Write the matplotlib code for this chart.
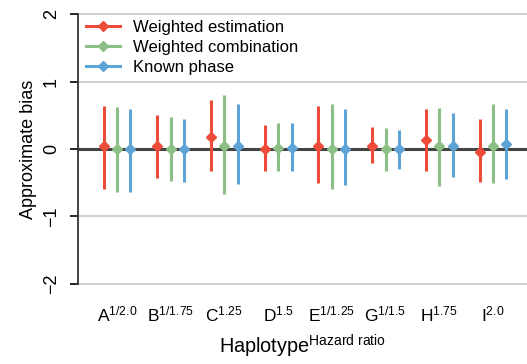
import numpy as np
import matplotlib
matplotlib.use("Agg")
import matplotlib.pyplot as plt

plt.rcParams['font.family'] = ['Liberation Sans', 'DejaVu Sans']
plt.rcParams['mathtext.fontset'] = 'custom'
plt.rcParams['mathtext.rm'] = 'Liberation Sans'
plt.rcParams['mathtext.it'] = 'Liberation Sans:italic'
plt.rcParams['mathtext.bf'] = 'Liberation Sans:bold'

# datos
haplotipos = ['A', 'B', 'C', 'D', 'E', 'G', 'H', 'I']
hazard = ['1/2.0', '1/1.75', '1.25', '1.5', '1/1.25', '1/1.5', '1.75', '2.0']
series = ['Weighted estimation', 'Weighted combination', 'Known phase']

est_pt = [0.04, 0.04, 0.18, 0.00, 0.04, 0.05, 0.13, -0.04]
est_lo = [-0.60, -0.43, -0.32, -0.33, -0.51, -0.21, -0.32, -0.49]
est_hi = [0.63, 0.50, 0.72, 0.35, 0.63, 0.32, 0.59, 0.44]

comb_pt = [0.00, 0.00, 0.05, 0.02, 0.00, 0.00, 0.04, 0.05]
comb_lo = [-0.64, -0.47, -0.66, -0.33, -0.60, -0.32, -0.55, -0.51]
comb_hi = [0.62, 0.47, 0.80, 0.38, 0.66, 0.31, 0.61, 0.67]

known_pt = [0.00, 0.00, 0.05, 0.02, 0.00, 0.00, 0.04, 0.07]
known_lo = [-0.64, -0.49, -0.52, -0.33, -0.54, -0.29, -0.41, -0.45]
known_hi = [0.59, 0.45, 0.66, 0.38, 0.59, 0.28, 0.53, 0.59]

colores = ['#EE4C3A', '#8CBF85', '#5DA3D5']

fig = plt.figure(figsize=(5.27, 3.64), dpi=100)
ax = fig.add_axes([78/527, 1 - 288/364, 1 - 78/527, (288 - 10)/364])

x = np.arange(len(haplotipos))
offsets = [-0.25, 0.0, 0.25]
datos = [(est_pt, est_lo, est_hi), (comb_pt, comb_lo, comb_hi), (known_pt, known_lo, known_hi)]

# lineas de referencia
for yv in [2, 1, -1, -2]:
    ax.axhline(yv, color='#CCCCCC', lw=1.3, zorder=0)
ax.axhline(0, color='#444444', lw=2.2, zorder=1)

for (pt, lo, hi), off, col, nom in zip(datos, offsets, colores, series):
    pt = np.array(pt)
    yerr = [pt - np.array(lo), np.array(hi) - pt]
    ax.errorbar(x + off, pt, yerr=yerr, fmt='D', color=col, ms=5.5,
                elinewidth=2.2, capsize=0, zorder=3)
    ax.plot([], [], color=col, lw=2.2, marker='D', ms=5.5, label=nom)

ax.set_xlim(-0.726, 7.633)
ax.set_ylim(-2.06, 2.06)
ax.set_yticks([-2, -1, 0, 1, 2])
ax.set_yticklabels(['\u22122', '\u22121', '0', '1', '2'], rotation=90, va='center', fontsize=13)
ax.tick_params(axis='y', length=6, width=1.2, pad=7)
ax.set_xticks(x)
ax.set_xticklabels([h + r'$^{\mathrm{' + z + '}}$' for h, z in zip(haplotipos, hazard)], fontsize=12.5)
ax.tick_params(axis='x', length=0, pad=12)

for s in ['top', 'right', 'bottom']:
    ax.spines[s].set_visible(False)
ax.spines['left'].set_bounds(-2, 2)
ax.spines['left'].set_linewidth(1.3)
ax.spines['left'].set_color('#333333')

ax.set_ylabel('Approximate bias', fontsize=13, labelpad=4)
ax.set_xlabel(r'Haplotype$^{\mathrm{Hazard\ ratio}}$', fontsize=14.3, labelpad=6)

ax.legend(loc='upper left', bbox_to_anchor=(0.0, 0.993), frameon=False, fontsize=12,
          handlelength=2.0, handletextpad=0.8, labelspacing=0.28, borderaxespad=0.1)

fig.savefig('out.png', dpi=100)
